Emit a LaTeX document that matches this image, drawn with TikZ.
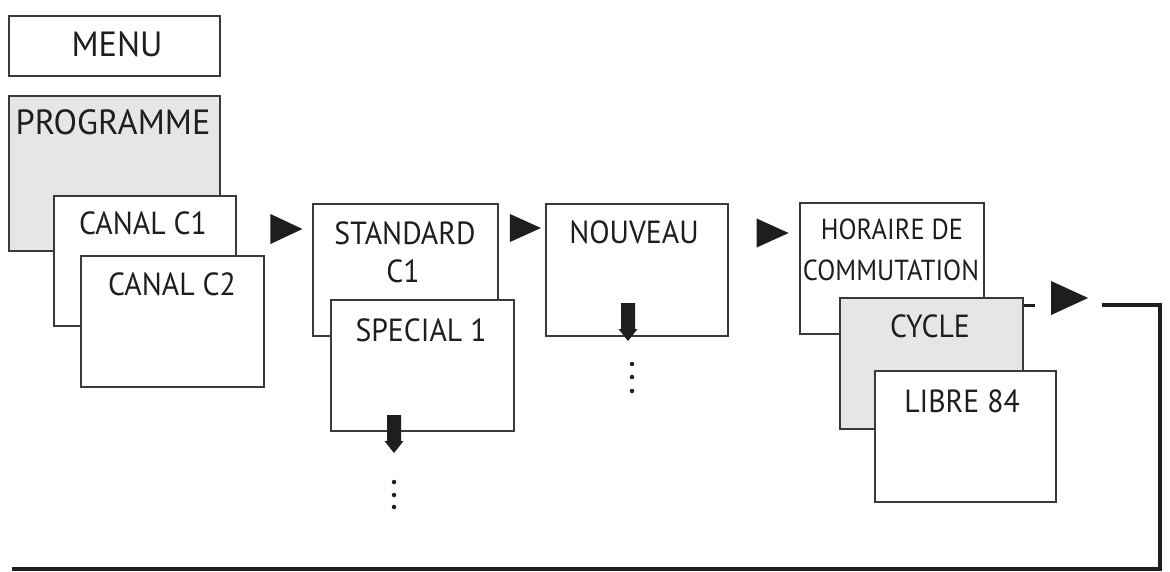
\documentclass[tikz,border=0pt]{standalone}
\usepackage{fontspec}
\usetikzlibrary{shapes.geometric}
\newfontfamily\dinfont[FakeStretch=0.93]{PT Sans}
\newfontfamily\dinbigfont[FakeStretch=0.98]{PT Sans}
\newfontfamily\dinsmallfont[FakeStretch=0.91]{PT Sans}
\definecolor{boxc}{HTML}{3A3A3A}
\definecolor{grayfill}{HTML}{E6E6E6}
\definecolor{inkc}{HTML}{1E1E1E}
\begin{document}
\begin{tikzpicture}[x=1pt,y=-1pt,
  box/.style={draw=boxc, line width=2pt, fill=white, inner sep=0pt, anchor=north west},
  shaded/.style={box, fill=grayfill},
  lbl/.style={inner sep=0pt, text=inkc, font=\dinfont\fontsize{32}{36}\selectfont},
  biglbl/.style={lbl, font=\dinbigfont\fontsize{35}{40}\selectfont},
  smalllbl/.style={lbl, font=\dinsmallfont\fontsize{29}{33}\selectfont},
  tri/.style={isosceles triangle, isosceles triangle stretches, fill=inkc, inner sep=0pt, draw=none},
  dotc/.style={fill=inkc, circle, inner sep=0pt, minimum size=4.5pt},
  loopline/.style={draw=inkc, line width=4pt, line join=miter},
  stub/.style={draw=inkc, line width=3pt},
  downarrow/.pic={\fill[inkc] (-7,0) -- (7,0) -- (7,26) -- (9.5,26) -- (0,38) -- (-9.5,26) -- (-7,26) -- cycle;}
]
\useasboundingbox (0,0) rectangle (1170,571);
% column 1
\node[box, minimum width=211pt, minimum height=60pt] (menu) at (8,15) {};
\node[biglbl] (tmenu) at (117,44) {MENU};
\node[shaded, minimum width=211pt, minimum height=155pt] (prog) at (8,95) {};
\node[biglbl] (tprog) at (113,122) {PROGRAMME};
\node[box, minimum width=182pt, minimum height=130pt] (c1) at (53,195) {};
\node[lbl] (tc1) at (143,223) {CANAL C1};
\node[box, minimum width=183pt, minimum height=131pt] (c2) at (80,255) {};
\node[lbl] (tc2) at (172,284) {CANAL C2};
\node[tri, minimum width=30pt, minimum height=32pt] (t1) at (280,229) {};
% column 2
\node[box, minimum width=185pt, minimum height=132pt] (std) at (312,203) {};
\node[lbl] (tstd) at (405,233) {STANDARD};
\node[lbl] (tstdb) at (403,271) {C1};
\node[box, minimum width=183pt, minimum height=131pt] (spc) at (330,299) {};
\node[lbl] (tspc) at (421,330) {SPECIAL 1};
\pic at (394,415) {downarrow};
\node[dotc] (d1) at (394,482) {};
\node[dotc] (d2) at (394,495) {};
\node[dotc] (d3) at (394,507) {};
\node[tri, minimum width=28pt, minimum height=31pt] (t2) at (519,228) {};
% column 3
\node[box, minimum width=182pt, minimum height=132pt] (nou) at (545,203) {};
\node[lbl] (tnou) at (634,232) {NOUVEAU};
\pic at (628,303) {downarrow};
\node[dotc] (e1) at (632,364) {};
\node[dotc] (e2) at (632,377) {};
\node[dotc] (e3) at (632,391) {};
\node[tri, minimum width=29pt, minimum height=32pt] (t3) at (766,233) {};
% column 4
\node[box, minimum width=184pt, minimum height=131pt] (hor) at (799,202) {};
\node[smalllbl] (thor) at (892,229) {HORAIRE DE};
\node[smalllbl] (thorb) at (891,270) {COMMUTATION};
\node[shaded, minimum width=183pt, minimum height=131pt] (cyc) at (839,297) {};
\node[lbl] (tcyc) at (930,326) {CYCLE};
\node[box, minimum width=181pt, minimum height=131pt] (lib) at (874,370) {};
\node[lbl] (tlib) at (962,401) {LIBRE 84};
% return path
\coordinate (ret) at (1102,305);
\coordinate (corner) at (1160,305);
\coordinate (bottomright) at (1160,568.7);
\coordinate (bottomleft) at (12,568.7);
\draw[stub] (cyc.east |- ret) -- ++(11,0);
\node[tri, minimum width=34pt, minimum height=37pt] (t4) at (1062,298) {};
\draw[loopline] (ret) -- (corner) -- (bottomright) -- (bottomleft);
\end{tikzpicture}
\end{document}
